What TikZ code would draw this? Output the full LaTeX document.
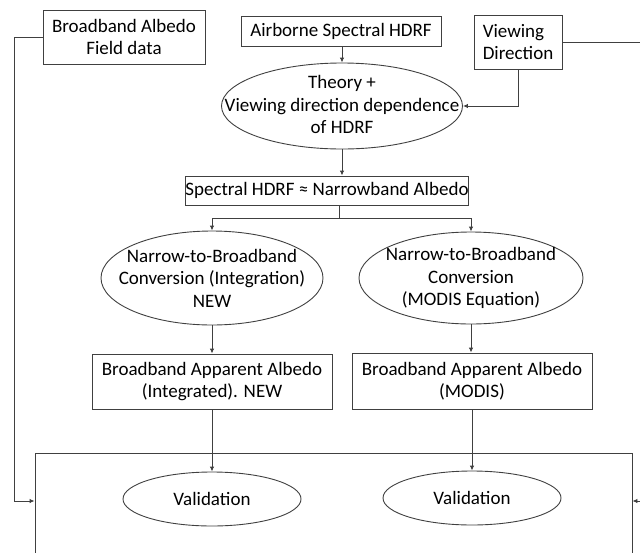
\documentclass[tikz,border=0pt]{standalone}
\usepackage{fontspec}
\setmainfont{Carlito}
\usetikzlibrary{shapes.geometric,arrows.meta}
\definecolor{linegray}{HTML}{404040}
\tikzset{
  every node/.style={font=\fontsize{19}{22.5}\selectfont, text=black, inner sep=0pt},
  boxnode/.style={draw=linegray, line width=0.9pt, rectangle, align=center},
  % negative inner sep lets the given minimum size fix the oval, whatever the text
  ovalnode/.style={draw=linegray, line width=0.9pt, ellipse, align=center, inner sep=-45pt},
  wire/.style={draw=linegray, line width=0.9pt},
  arrowwire/.style={wire, -{Latex[length=5pt,width=4.5pt]}}
}
\begin{document}
\begin{tikzpicture}[x=1pt,y=-1pt]
\useasboundingbox (0,0) rectangle (640,552);
\clip (0,0) rectangle (640,552);

% input boxes
\node[boxnode, minimum width=162, minimum height=54] (field) at (124,37) {Broadband Albedo\\Field data};
\node[boxnode, minimum width=200, minimum height=30] (airborne) at (341,31) {Airborne Spectral HDRF};
\node[boxnode, minimum width=88, minimum height=54, align=left] (viewing) at (518,42) {Viewing\\Direction};

% theory step
\node[ovalnode, minimum width=241, minimum height=86] (theory) at (342,106) {Theory +\\Viewing direction dependence\\of HDRF\vphantom{p}};
\node[boxnode, minimum width=282, minimum height=29] (spectral) at (327,190.5) {Spectral HDRF ≈ Narrowband Albedo};

% two conversion branches
\node[ovalnode, minimum width=222, minimum height=94] (convL) at (212,278) {Narrow-to-Broadband\\Conversion (Integration)\\NEW};
\node[ovalnode, minimum width=224, minimum height=92] (convR) at (471,278) {Narrow-to-Broadband\\Conversion\\(MODIS Equation)};
\node[boxnode, minimum width=240, minimum height=55] (appL) at (212,381.5) {Broadband Apparent Albedo\\(Integrated). NEW};
\node[boxnode, minimum width=240, minimum height=56] (appR) at (472,381) {Broadband Apparent Albedo\\(MODIS)};

% validation frame
\node[draw=linegray, line width=0.9pt, rectangle, minimum width=597, minimum height=120] (frame) at (333.5,513) {};
\node[ovalnode, minimum width=178, minimum height=54] (valL) at (212,499) {Validation};
\node[ovalnode, minimum width=178, minimum height=54] (valR) at (472,498) {Validation};

% free ends
\coordinate (branch) at (339,218);
\coordinate (vout) at (645,42);
\coordinate (fbL) at (14,501);
\coordinate (fbR) at (645,501);

% connectors
\draw[arrowwire] (airborne.south -| theory.north) -- (theory.north);
\draw[arrowwire] (viewing.south) |- (theory.east);
\draw[wire] (viewing.east) -- (vout);
\draw[arrowwire] (theory.south) -- (theory.south |- spectral.north);
\draw[wire] (branch |- spectral.south) -- (branch);
\draw[wire] (branch -| convL.north) -- (branch -| convR.north);
\draw[arrowwire] (branch -| convL.north) -- (convL.north);
\draw[arrowwire] (branch -| convR.north) -- (convR.north);
\draw[arrowwire] (convL.south) -- (appL.north);
\draw[arrowwire] (convR.south) -- (convR.south |- appR.north);
\draw[arrowwire] (appL.south) -- (valL.north);
\draw[arrowwire] (appR.south) -- (valR.north);
\draw[wire] (field.west) -| (fbL);
\draw[arrowwire] (fbL) -- (fbL -| frame.west);
\draw[arrowwire] (fbR) -- (fbR -| frame.east);
\end{tikzpicture}
\end{document}
